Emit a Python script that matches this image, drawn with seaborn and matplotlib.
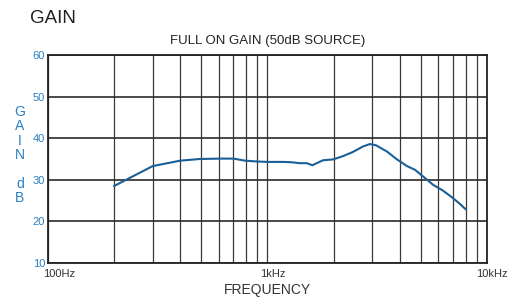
import matplotlib
matplotlib.use("Agg")
import matplotlib.pyplot as plt
import matplotlib.transforms as mtransforms
import pandas as pd
import seaborn as sns
from matplotlib.ticker import FixedLocator, NullFormatter

freq_hz = [200, 300, 400, 490, 610, 700, 790, 900, 1000, 1200, 1300, 1400,
           1510, 1600, 1790, 1990, 2210, 2450, 2720, 2930, 3120, 3500, 3890,
           4320, 4700, 5220, 5680, 6300, 6920, 7450, 8000]
gain_db = [28.5, 33.3, 34.6, 35.0, 35.1, 35.1, 34.6, 34.4, 34.3, 34.3, 34.2,
           34.0, 34.0, 33.5, 34.7, 34.9, 35.7, 36.7, 38.0, 38.6, 38.3, 36.8,
           34.9, 33.3, 32.4, 30.4, 28.8, 27.4, 25.8, 24.4, 22.9]

x_ticks = [100, 1000, 10000]
x_tick_labels = ["100Hz", "1kHz", "10kHz"]
y_ticks = [10, 20, 30, 40, 50, 60]

LINE = "#1a5f98"
BLUE = "#2a7fc0"


def main():
    sns.set_theme(style="white")
    plt.rcParams["font.family"] = ["Liberation Sans", "DejaVu Sans"]

    df = pd.DataFrame({"freq": freq_hz, "gain": gain_db})

    fig = plt.figure(figsize=(5.1, 2.98), dpi=100)
    ax = fig.add_axes([0.094, 0.1174, 0.861, 0.698])

    sns.lineplot(x="freq", y="gain", data=df, ax=ax, color=LINE, linewidth=1.5)

    ax.set_xscale("log")
    ax.set_xlim(100, 10000)
    ax.set_ylim(10, 60)

    minor = [m * d for d in (100, 1000) for m in range(2, 10)]
    ax.xaxis.set_major_locator(FixedLocator(x_ticks))
    ax.xaxis.set_minor_locator(FixedLocator(minor))
    ax.xaxis.set_minor_formatter(NullFormatter())
    ax.set_xticklabels(x_tick_labels)
    ax.set_yticks(y_ticks)

    ax.grid(True, which="both", axis="x", color="#3a3a3a", linewidth=0.9)
    ax.grid(True, which="major", axis="y", color="#2a2a2a", linewidth=1.2)
    ax.set_axisbelow(True)
    for s in ax.spines.values():
        s.set_color("#222222")
        s.set_linewidth(1.3)

    ax.tick_params(axis="both", which="both", length=0)
    ax.tick_params(axis="y", pad=2, labelsize=8, labelcolor=BLUE)
    ax.tick_params(axis="x", pad=4, labelsize=8, labelcolor="#333333")

    # shift x tick labels slightly right like the reference
    for i, lab in enumerate(ax.get_xticklabels()):
        dx = 11 if i == 0 else 5
        lab.set_transform(lab.get_transform() +
                          mtransforms.ScaledTranslation(dx / 100, 0, fig.dpi_scale_trans))

    ax.set_xlabel("FREQUENCY", fontsize=10, color="#333333", labelpad=3)
    ax.set_ylabel("")
    ax.set_title("FULL ON GAIN (50dB SOURCE)", fontsize=9.5, color="#222222", pad=8)

    fig.text(0.058, 0.937, "GAIN", fontsize=13.5, color="#222222",
             ha="left", va="center")
    fig.text(0.039, 0.48, "G\nA\nI\nN\n\nd\nB", fontsize=10, color=BLUE,
             ha="center", va="center", linespacing=1.04)

    fig.savefig("out.png", dpi=100)
    plt.close(fig)


if __name__ == "__main__":
    main()
